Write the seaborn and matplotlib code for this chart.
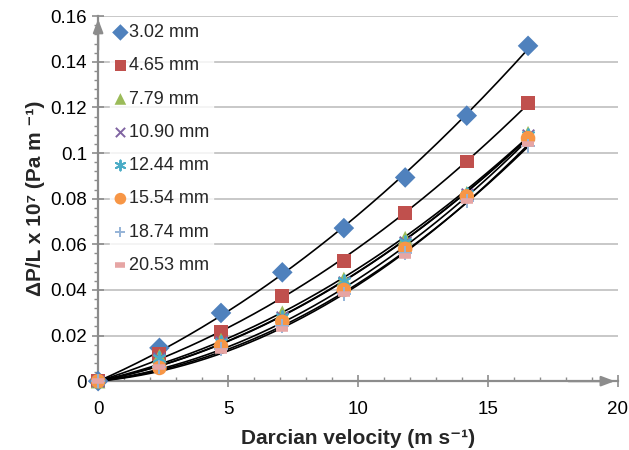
"""
Pressure drop per unit length vs Darcian velocity for different bead sizes,
with second order trendlines (through the origin).
"""
import numpy as np
import pandas as pd
import seaborn as sns
import matplotlib.pyplot as plt
from matplotlib.ticker import MultipleLocator, FuncFormatter

# Data
velocity = [0, 2.36, 4.73, 7.09, 9.46, 11.82, 14.19, 16.55]

labels = ['3.02 mm', '4.65 mm', '7.79 mm', '10.90 mm',
          '12.44 mm', '15.54 mm', '18.74 mm', '20.53 mm']

dp_302 = [0, 0.0146, 0.0299, 0.0477, 0.0671, 0.0893, 0.1164, 0.1470]
dp_465 = [0, 0.0120, 0.0216, 0.0375, 0.0525, 0.0737, 0.0963, 0.1220]
dp_779 = [0, 0.0110, 0.0180, 0.0300, 0.0448, 0.0627, 0.0824, 0.1087]
dp_1090 = [0, 0.0100, 0.0170, 0.0280, 0.0433, 0.0610, 0.0820, 0.1080]
dp_1244 = [0, 0.0100, 0.0170, 0.0280, 0.0440, 0.0610, 0.0820, 0.1080]
dp_1554 = [0, 0.0058, 0.0153, 0.0260, 0.0400, 0.0580, 0.0810, 0.1065]
dp_1874 = [0, 0.0060, 0.0140, 0.0240, 0.0380, 0.0560, 0.0790, 0.1030]
dp_2053 = [0, 0.0060, 0.0130, 0.0230, 0.0380, 0.0550, 0.0790, 0.1040]

series = [dp_302, dp_465, dp_779, dp_1090, dp_1244, dp_1554, dp_1874, dp_2053]

colors = ['#4F81BD', '#C0504D', '#9BBB59', '#8064A2',
          '#4BACC6', '#F79646', '#95B3D7', '#E6A5A4']
markers = ['D', 's', '^', 'x', (6, 2, 0), 'o', '+', '_']
sizes = [110, 100, 110, 70, 80, 110, 90, 80]


def main():
    sns.set_style('white')
    plt.rcParams['font.family'] = ['Liberation Sans', 'DejaVu Sans']

    fig = plt.figure(figsize=(6.29, 4.5), dpi=100)
    ax = fig.add_axes([0.156, 0.153, 0.826, 0.811])

    x = np.array(velocity)
    xs = np.linspace(0, x.max(), 200)

    # trendlines first so markers sit on top
    for vals in series:
        y = np.array(vals)
        A = np.column_stack([x ** 2, x])
        coef, *_ = np.linalg.lstsq(A, y, rcond=None)
        fit = pd.DataFrame({'x': xs, 'y': coef[0] * xs ** 2 + coef[1] * xs})
        sns.lineplot(data=fit, x='x', y='y', color='black', lw=1.2,
                     ax=ax, zorder=3)

    for lab, vals, c, m, s in zip(labels, series, colors, markers, sizes):
        df = pd.DataFrame({'x': velocity, 'y': vals})
        if m in ('x', '+', (6, 2, 0)):
            kw = dict(linewidth=1.4)
        elif m == '_':
            kw = dict(linewidth=4)
        else:
            kw = dict(edgecolor='none')
        sns.scatterplot(data=df, x='x', y='y', marker=m, s=s, color=c,
                        label=lab, ax=ax, zorder=4, clip_on=False, **kw)

    ax.set_xlim(0, 20)
    ax.set_ylim(0, 0.16)
    ax.xaxis.set_major_locator(MultipleLocator(5))
    ax.xaxis.set_minor_locator(MultipleLocator(1))
    ax.yaxis.set_major_locator(MultipleLocator(0.02))
    ax.yaxis.set_minor_locator(MultipleLocator(0.004))
    ax.xaxis.set_major_formatter(FuncFormatter(lambda v, p: f'{v:g}'))
    ax.yaxis.set_major_formatter(FuncFormatter(lambda v, p: f'{round(v, 3):g}'))

    ax.grid(axis='y', color='#BFBFBF', lw=1.2)
    ax.set_axisbelow(True)

    for sp in ['top', 'right']:
        ax.spines[sp].set_visible(False)
    for sp in ['left', 'bottom']:
        ax.spines[sp].set_color('#8C8C8C')
        ax.spines[sp].set_linewidth(1.6)

    ax.tick_params(axis='both', which='both', colors='#8C8C8C',
                   labelcolor='black', labelsize=13.5)
    ax.tick_params(axis='y', which='major', direction='inout', length=8, width=1.2, pad=4)
    ax.tick_params(axis='y', which='minor', direction='out', length=3, width=1)
    ax.tick_params(axis='x', which='major', direction='inout', length=8, width=1.2, pad=10)
    ax.tick_params(axis='x', which='minor', direction='in', length=3, width=1)
    ax.tick_params(left=True, bottom=True, which='both')

    # arrow heads on the axes
    ax.annotate('', xy=(1.0, 0), xytext=(0.9, 0), xycoords='axes fraction',
                arrowprops=dict(arrowstyle='-|>,head_length=0.8,head_width=0.3',
                                color='#8C8C8C', lw=1.6))
    ax.annotate('', xy=(0, 1.0), xytext=(0, 0.9), xycoords='axes fraction',
                arrowprops=dict(arrowstyle='-|>,head_length=0.8,head_width=0.3',
                                color='#8C8C8C', lw=1.6))

    ax.set_xlabel('Darcian velocity (m s⁻¹)', fontsize=15,
                  fontweight='bold', labelpad=8)
    ax.set_ylabel('ΔP/L x 10⁷ (Pa m ⁻¹)', fontsize=15,
                  fontweight='bold', labelpad=4)

    leg = ax.legend(loc='upper left', bbox_to_anchor=(0.022, 0.988),
                    frameon=True, fontsize=13, labelspacing=0.9,
                    handletextpad=0.1, handlelength=0.8, borderpad=0.2,
                    borderaxespad=0, markerscale=0.8)
    leg.get_frame().set_facecolor('white')
    leg.get_frame().set_edgecolor('white')
    leg.set_zorder(5)

    fig.savefig('out.png', dpi=100)


if __name__ == '__main__':
    main()
